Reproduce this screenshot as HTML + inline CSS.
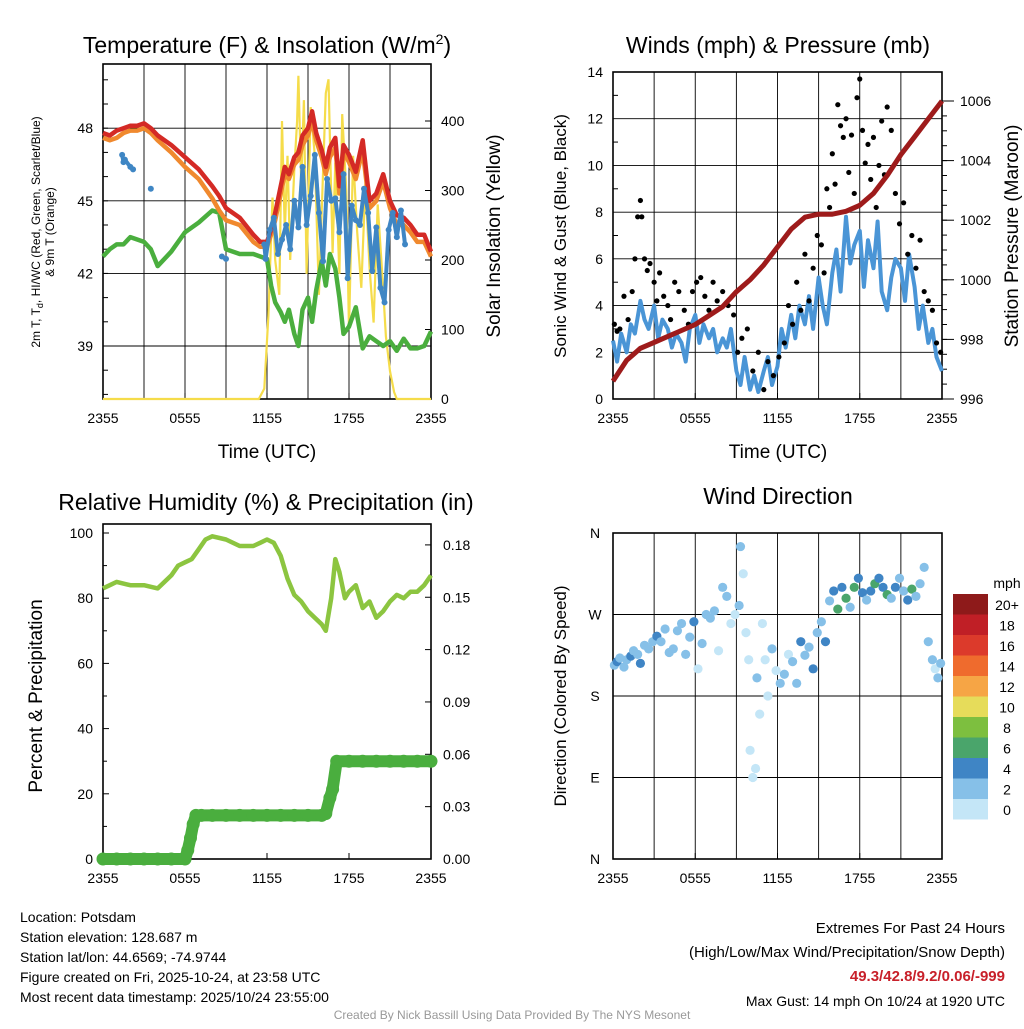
<!DOCTYPE html>
<html><head><meta charset="utf-8"><style>
body{margin:0;background:#fff}
svg text{font-family:"Liberation Sans",sans-serif;fill:#000}
</style></head><body>
<svg id="c" width="1024" height="1024" viewBox="0 0 1024 1024" xmlns="http://www.w3.org/2000/svg"></svg>
<script>
// ---------- DATA ----------
const xTickLabels=["2355","0555","1155","1755","2355"];
// Temperature panel (hours since 2355)
const tempHours=[0,0.5,1,1.5,2,2.5,3,3.5,4,5,6,7,8,8.5,9,10,11,11.5,12,12.3,12.6,13,13.3,13.6,14,14.3,14.6,15,15.3,15.6,16,16.3,16.6,17,17.3,17.6,18,18.5,19,19.5,20,20.5,21,21.5,22,22.5,23,23.5,24];
const redT=[47.8,47.7,47.9,48.0,48.1,48.1,48.2,48.0,47.7,47.3,46.8,46.3,45.6,45.2,44.7,44.3,43.6,43.3,43.3,43.8,44.5,45.6,46.4,46.1,46.8,47.0,47.7,48.0,48.7,47.8,47.1,46.4,47.2,47.6,45.6,47.3,46.9,46.2,47.5,45.0,45.3,46.1,45.0,44.4,44.3,44.0,43.6,43.6,42.9];
const orangeT=[47.6,47.5,47.6,47.8,47.9,47.9,48.0,47.8,47.5,47.0,46.4,45.9,45.1,44.6,44.2,44.0,43.3,43.1,43.1,43.6,44.2,45.3,46.1,45.9,46.5,46.7,47.3,47.7,48.3,47.5,46.8,46.1,46.8,47.2,45.3,47.0,46.6,45.9,47.1,44.7,45.0,45.8,44.7,44.0,44.0,43.7,43.3,43.3,42.7];
const greenT=[42.7,43.0,43.2,43.2,43.5,43.4,43.3,43.0,42.3,42.9,43.7,44.1,44.6,44.5,43.0,42.8,42.8,42.7,42.6,41.5,40.8,40.4,40.0,40.5,39.5,39.0,40.5,41.0,40.0,41.3,42.5,41.5,42.8,42.2,41.0,39.5,39.8,40.6,38.9,39.4,39.2,39.0,39.2,38.8,39.3,38.9,38.9,39.0,39.6];
const blueHours=[1.4,1.5,1.6,2.0,2.2,3.5,8.7,9.0,11.8,11.9,12.2,12.5,12.8,13.1,13.4,13.7,14.0,14.3,14.6,14.9,15.2,15.5,15.8,16.1,16.4,16.7,17.0,17.3,17.6,17.9,18.2,18.5,18.8,19.1,19.4,19.7,20.0,20.3,20.6,20.9,21.2,21.5,21.8,22.1];
const blueT=[46.9,46.6,46.7,46.4,46.3,45.5,42.7,42.6,43.2,42.6,43.8,44.3,42.8,43.4,44.0,43.0,45.0,43.9,46.4,44.0,45.2,46.9,44.5,42.5,45.9,45.0,45.1,43.7,46.1,41.8,44.8,44.2,44.0,45.5,44.5,42.1,43.9,41.4,40.8,43.8,44.5,43.5,44.6,43.2];
const solarHours=[0,11.4,11.8,12.1,12.4,12.6,12.9,13.1,13.3,13.5,13.7,14.0,14.2,14.3,14.5,14.7,14.9,15.2,15.5,15.8,16.0,16.3,16.5,16.8,17.0,17.3,17.5,17.8,18.0,18.3,18.6,18.9,19.2,19.5,19.8,20.1,20.4,20.7,21.0,21.3,21.5,22,24];
const solarW=[0,0,15,120,290,200,150,400,240,350,200,330,400,465,310,430,180,420,350,150,270,440,460,210,340,180,410,300,100,350,240,160,310,190,110,280,190,90,40,10,0,0,0];
// Winds panel
const windHours=[0,0.3,0.6,1,1.3,1.6,2,2.3,2.6,3,3.3,3.6,4,4.3,4.6,5,5.3,5.6,6,6.3,6.6,7,7.3,7.6,8,8.3,8.6,9,9.3,9.6,10,10.3,10.6,11,11.3,11.6,12,12.3,12.6,13,13.3,13.6,14,14.3,14.6,15,15.3,15.6,16,16.3,16.6,17,17.3,17.6,18,18.3,18.6,19,19.3,19.6,20,20.3,20.6,21,21.3,21.6,22,22.3,22.6,23,23.3,23.6,24];
const windMph=[2.5,1.6,2.8,2.0,3.2,2.8,4.2,3.4,3.0,4.0,2.6,3.4,3.0,2.2,2.8,2.4,1.6,3.0,3.6,2.4,3.2,2.6,3.0,2.0,2.6,2.2,3.0,1.2,0.6,1.8,0.4,1.0,0.3,1.2,1.8,0.6,1.4,3.0,2.2,3.6,2.6,4.0,3.2,4.4,3.0,5.2,4.0,3.2,5.4,6.4,4.6,7.8,5.8,6.6,7.2,4.8,6.8,5.6,7.6,4.6,3.8,5.2,6.0,5.6,4.2,6.2,4.8,3.0,4.0,2.4,3.0,1.8,1.2];
const gustHours=[0.1,0.3,0.5,0.8,1.1,1.4,1.6,1.8,2.0,2.1,2.3,2.5,2.7,3.0,3.2,3.4,3.7,4.0,4.2,4.5,4.8,5.2,5.5,5.8,6.1,6.4,6.7,7.0,7.3,7.6,8.0,8.4,8.8,9.1,9.4,9.8,10.2,10.6,11.0,11.3,11.7,12.1,12.5,12.8,13.1,13.4,13.7,14.0,14.3,14.6,14.9,15.2,15.4,15.6,15.8,16.0,16.2,16.4,16.6,16.8,17.0,17.2,17.4,17.6,17.8,18.0,18.2,18.4,18.6,18.8,19.0,19.2,19.4,19.6,19.8,20.0,20.3,20.6,20.9,21.2,21.5,21.8,22.1,22.4,22.7,23.0,23.3,23.6,23.9];
const gustMph=[3.2,2.9,3.0,4.4,3.4,4.6,6.0,7.8,8.5,7.8,6.0,5.5,5.8,5.0,4.2,5.4,4.4,4.0,3.4,5.0,4.6,3.8,3.2,4.6,5.0,5.2,4.4,3.8,5.0,4.2,4.6,4.0,3.6,2.0,2.6,3.0,1.2,2.0,0.4,1.6,1.0,1.8,2.4,4.0,3.2,5.0,3.8,6.2,4.2,5.6,7.0,6.6,5.4,9.0,8.2,10.5,9.2,12.6,11.7,11.2,12.0,9.7,11.3,8.8,12.9,13.7,11.5,10.1,10.9,9.4,11.2,8.2,10.0,11.9,9.6,12.5,11.5,8.8,7.5,8.4,6.2,7.0,5.6,6.8,4.6,4.2,3.8,2.4,2.0];
const pressHours=[0,1,2,3,4,5,6,7,8,9,10,11,12,13,14,15,16,17,18,19,20,21,22,23,24];
const pressMb=[996.6,997.3,997.7,997.9,998.1,998.3,998.5,998.8,999.1,999.6,1000.0,1000.5,1001.1,1001.7,1002.1,1002.2,1002.2,1002.3,1002.5,1002.9,1003.5,1004.2,1004.8,1005.4,1006.0];
// RH panel
const rhHours=[0,0.5,1,2,3,4,4.5,5,5.5,6,6.5,7,7.5,8,9,10,11,11.5,12,12.5,13,13.5,14,14.5,15,15.5,16,16.3,16.7,17,17.3,17.7,18,18.5,19,19.5,20,20.5,21,21.5,22,22.5,23,23.5,24];
const rhPct=[83,84,85,84,84,83,85,87,90,91,92,95,98,99,98,96,96,97,98,97,93,86,81,79,76,74,72,70,80,92,88,80,82,84,77,79,74,76,79,81,80,82,82,84,87];
const precipHours=[0,1,2,3,4,5,6,6.2,6.4,6.6,6.8,7.2,8,9,10,11,12,13,14,15,16,16.3,16.6,16.8,17.1,18,19,20,21,22,23,24];
const precipIn=[0,0,0,0,0,0,0,0.005,0.012,0.02,0.025,0.025,0.025,0.025,0.025,0.025,0.025,0.025,0.025,0.025,0.025,0.026,0.035,0.04,0.056,0.056,0.056,0.056,0.056,0.056,0.056,0.056];
// Wind direction panel
const dirHours=[0.1,0.3,0.5,0.8,1.0,1.3,1.5,1.8,2.0,2.3,2.6,2.9,3.2,3.5,3.8,4.1,4.4,4.7,5.0,5.3,5.6,5.9,6.2,6.5,6.8,7.1,7.4,7.7,8.0,8.3,8.6,8.9,9.2,9.3,9.5,9.7,9.9,10.0,10.2,10.4,10.5,10.7,10.9,11.1,11.3,11.6,11.9,12.2,12.5,12.8,13.1,13.4,13.7,14.0,14.3,14.6,14.9,15.2,15.5,15.8,16.1,16.4,16.7,17.0,17.3,17.6,17.9,18.2,18.5,18.8,19.1,19.4,19.7,20.0,20.3,20.6,20.9,21.2,21.5,21.8,22.1,22.4,22.7,23.0,23.3,23.5,23.7,23.9];
const dirDeg=[214,218,222,212,220,224,230,226,216,236,232,240,246,240,254,228,232,252,260,226,245,262,210,238,270,266,274,230,300,290,260,270,280,345,315,250,220,120,90,100,200,160,260,220,180,232,208,194,204,226,218,194,240,225,234,210,250,262,240,285,296,276,300,288,278,300,310,294,286,296,304,310,300,292,288,300,310,296,286,298,290,304,322,240,220,210,200,216];
const dirSpd=[3,4,3,2,3,4,3,2,4,3,3,2,4,3,2,3,2,2,3,2,2,4,1,2,2,3,2,1,3,2,1,0,2,2,1,0,1,0,1,0,2,1,1,0,1,2,1,2,2,1,2,3,4,3,2,4,3,2,4,3,5,6,4,7,3,6,4,5,3,4,6,4,5,7,3,4,2,3,5,6,2,3,2,2,3,1,2,2];

// ---------- DRAW ----------
const svg=document.getElementById('c');
const NS='http://www.w3.org/2000/svg';
function el(tag,attrs,parent){const e=document.createElementNS(NS,tag);for(const k in attrs)e.setAttribute(k,attrs[k]);(parent||svg).appendChild(e);return e;}
function txt(s,x,y,size,anchor,parent,extra){const t=el('text',Object.assign({x:x,y:y,'font-size':size,'text-anchor':anchor||'middle'},extra||{}),parent);t.textContent=s;return t;}
function ptsStr(xs,ys,fx,fy){return xs.map((h,i)=>fx(h).toFixed(1)+','+fy(ys[i]).toFixed(1)).join(' ');}

function frame(g,x0,x1,y0,y1,name){
  for(let h=3;h<24;h+=3){const x=x0+(x1-x0)*h/24;el('line',{x1:x,x2:x,y1:y0,y2:y1,stroke:'#000','stroke-width':0.9},g);}
  xTickLabels.forEach((s,i)=>{const x=x0+(x1-x0)*i/4;const t=txt(s,x,y1+24,14,'middle',g);
    el('line',{x1:x,x2:x,y1:y1,y2:y1-6,stroke:'#000','stroke-width':1},g);});
  const r=el('rect',{x:x0,y:y0,width:x1-x0,height:y1-y0,fill:'none',stroke:'#000','stroke-width':1.6},g);
  
}

// Panel 1: Temperature
(function(){
const g=el('g',{});
const x0=103,x1=431,y0=64,y1=399;
const fx=h=>x0+(x1-x0)*h/24, fy=v=>346-(v-39)*24.2, fr=v=>399-v*0.695;
[39,42,45,48].forEach(v=>{el('line',{x1:x0,x2:x1,y1:fy(v),y2:fy(v),stroke:'#000','stroke-width':0.9},g);const t=txt(String(v),x0-10,fy(v)+5,14,'end',g);});
for(let v=37;v<=50;v++){el('line',{x1:x0,x2:x0+5,y1:fy(v),y2:fy(v),stroke:'#000'},g);}
[0,100,200,300,400].forEach(v=>{const t=txt(String(v),x1+10,fr(v)+5,14,'start',g);el('line',{x1:x1,x2:x1-6,y1:fr(v),y2:fr(v),stroke:'#000'},g);});
frame(g,x0,x1,y0,y1,'temperature');
const sol=el('polyline',{points:ptsStr(solarHours,solarW,fx,fr),fill:'none',stroke:'#f5dc4a','stroke-width':2.2},g);
const gr=el('polyline',{points:ptsStr(tempHours,greenT,fx,fy),fill:'none',stroke:'#4aae3e','stroke-width':4.5,'stroke-linejoin':'round'},g);
const orr=el('polyline',{points:ptsStr(tempHours,orangeT,fx,fy),fill:'none',stroke:'#f0892e','stroke-width':4.5,'stroke-linejoin':'round'},g);
const rd=el('polyline',{points:ptsStr(tempHours,redT,fx,fy),fill:'none',stroke:'#d42a25','stroke-width':4.5,'stroke-linejoin':'round'},g);
blueHours.forEach((h,i)=>{const c=el('circle',{cx:fx(h),cy:fy(blueT[i]),r:3,fill:'#3f86c4'},g);
 if(i>0&&h-blueHours[i-1]<0.4){const l=el('line',{x1:fx(blueHours[i-1]),y1:fy(blueT[i-1]),x2:fx(h),y2:fy(blueT[i]),stroke:'#3f86c4','stroke-width':4},g);}});
let t=txt('',267,53,23,'middle',g);t.innerHTML='Temperature (F) &amp; Insolation (W/m<tspan font-size="14" dy="-9">2</tspan><tspan dy="9">)</tspan>';
t=txt('Time (UTC)',267,458,19,'middle',g);
t=txt('',0,0,12,'middle',g,{transform:'translate(40,232) rotate(-90)'});t.innerHTML='2m T, T<tspan font-size="9" dy="3">d</tspan><tspan dy="-3">, HI/WC (Red, Green, Scarlet/Blue)</tspan>';
t=txt('& 9m T (Orange)',0,0,12,'middle',g,{transform:'translate(54,232) rotate(-90)'});
t=txt('Solar Insolation (Yellow)',0,0,19,'middle',g,{transform:'translate(500,236) rotate(-90)'});
})();

// Panel 2: Winds
(function(){
const g=el('g',{});
const x0=613,x1=942,y0=72,y1=399;
const fx=h=>x0+(x1-x0)*h/24, fy=v=>399-v*(327/14), fr=v=>399-(v-996)*29.8;
for(let v=0;v<=14;v+=2){el('line',{x1:x0,x2:x1,y1:fy(v),y2:fy(v),stroke:'#000','stroke-width':0.9},g);const t=txt(String(v),x0-10,fy(v)+5,14,'end',g);if(v<14)el('line',{x1:x0,x2:x0+5,y1:fy(v+1),y2:fy(v+1),stroke:'#000'},g);}
for(let v=996;v<=1006;v+=2){const t=txt(String(v),x1+18,fr(v)+5,14,'start',g);el('line',{x1:x1,x2:x1+12,y1:fr(v),y2:fr(v),stroke:'#000'},g);}
for(let v=996.5;v<1006;v+=0.5){el('line',{x1:x1,x2:x1+5,y1:fr(v),y2:fr(v),stroke:'#000'},g);}
frame(g,x0,x1,y0,y1,'winds');
const w=el('polyline',{points:ptsStr(windHours,windMph,fx,fy),fill:'none',stroke:'#4a95d6','stroke-width':4,'stroke-linejoin':'round'},g);
gustHours.forEach((h,i)=>{const c=el('circle',{cx:fx(h),cy:fy(gustMph[i]),r:2.6,fill:'#000'},g);});
const p=el('polyline',{points:ptsStr(pressHours,pressMb,fx,fr),fill:'none',stroke:'#9e1b1b','stroke-width':5,'stroke-linejoin':'round'},g);
let t=txt('Winds (mph) & Pressure (mb)',778,53,23,'middle',g);
t=txt('Time (UTC)',778,458,19,'middle',g);
t=txt('Sonic Wind & Gust (Blue, Black)',0,0,17,'middle',g,{transform:'translate(566,236) rotate(-90)'});
t=txt('Station Pressure (Maroon)',0,0,19,'middle',g,{transform:'translate(1018,236) rotate(-90)'});
})();

// Panel 3: RH
(function(){
const g=el('g',{});
const x0=103,x1=431,y0=524,y1=859;
const fx=h=>x0+(x1-x0)*h/24, fy=v=>859-v*3.26, fr=v=>859-v*1745;
for(let v=0;v<=100;v+=20){const t=txt(String(v),x0-10,fy(v)+5,14,'end',g);el('line',{x1:x0,x2:x0+6,y1:fy(v),y2:fy(v),stroke:'#000'},g);if(v<100)el('line',{x1:x0,x2:x0+4,y1:fy(v+10),y2:fy(v+10),stroke:'#000'},g);}
['0.00','0.03','0.06','0.09','0.12','0.15','0.18'].forEach((s,i)=>{const v=i*0.03;const t=txt(s,x1+12,fr(v)+5,14,'start',g);el('line',{x1:x1,x2:x1-6,y1:fr(v),y2:fr(v),stroke:'#000'},g);});
const r=el('rect',{x:x0,y:y0,width:x1-x0,height:y1-y0,fill:'none',stroke:'#000','stroke-width':1.6},g);
xTickLabels.forEach((s,i)=>{const x=x0+(x1-x0)*i/4;const t=txt(s,x,y1+24,14,'middle',g);el('line',{x1:x,x2:x,y1:y1,y2:y1-6,stroke:'#000'},g);});
const rh=el('polyline',{points:ptsStr(rhHours,rhPct,fx,fy),fill:'none',stroke:'#8cc540','stroke-width':4.5,'stroke-linejoin':'round'},g);
const pl=el('polyline',{points:ptsStr(precipHours,precipIn,fx,fr),fill:'none',stroke:'#4aae3e','stroke-width':12,'stroke-linejoin':'round','stroke-linecap':'round'},g);
precipHours.forEach((h,i)=>{const c=el('circle',{cx:fx(h),cy:fr(precipIn[i]),r:6.5,fill:'#4aae3e'},g);});
let t=txt('Relative Humidity (%) & Precipitation (in)',266,510,23,'middle',g);
t=txt('Percent & Precipitation',0,0,19,'middle',g,{transform:'translate(42,696) rotate(-90)'});
})();

// Panel 4: Wind direction
const speedColors=['#c4e6f7','#86c0e8','#3f85c5','#4aa56b','#7dbf3f','#e6dc5a','#f6a545','#ef6b2d','#dc3a2b','#c01f26','#8e1a1a'];
const speedLabels=['0','2','4','6','8','10','12','14','16','18','20+'];
(function(){
const g=el('g',{});
const x0=613,x1=942,y0=533,y1=859;
const fx=h=>x0+(x1-x0)*h/24, fy=v=>859-v*(326/360);
['N','E','S','W','N'].forEach((s,i)=>{const y=fy(i*90);if(i>0&&i<4)el('line',{x1:x0,x2:x1,y1:y,y2:y,stroke:'#000','stroke-width':0.9},g);const t=txt(s,x0-18,y+5,14,'middle',g);});
frame(g,x0,x1,y0,y1,'wind-direction');
dirHours.forEach((h,i)=>{const ci=Math.min(10,Math.floor(dirSpd[i]/2));const c=el('circle',{cx:fx(h),cy:fy(dirDeg[i]),r:4.6,fill:speedColors[ci]},g);});
let t=txt('Wind Direction',778,504,23,'middle',g);
t=txt('Direction (Colored By Speed)',0,0,17,'middle',g,{transform:'translate(566,696) rotate(-90)'});
const lg=el('g',{},g);
t=txt('mph',1007,588,14,'middle',lg);
for(let i=0;i<11;i++){const y=594+(10-i)*20.5;const r=el('rect',{x:953,y:y,width:35,height:20.5,fill:speedColors[i]},lg);
 const tl=txt(speedLabels[i],1007,y+16,14,'middle',lg);}
})();
</script>
<div style="position:absolute;left:0;top:0;width:1024px;height:1024px;pointer-events:none;font-family:'Liberation Sans',sans-serif;font-size:14px;color:#000">
<div style="position:absolute;left:20px;top:907px;line-height:20px">Location: Potsdam<br>Station elevation: 128.687 m<br>Station lat/lon: 44.6569; -74.9744<br>Figure created on Fri, 2025-10-24, at 23:58 UTC<br>Most recent data timestamp: 2025/10/24 23:55:00</div>
<div style="position:absolute;right:19px;top:917px;text-align:right;line-height:24px;font-size:15px">Extremes For Past 24 Hours<br>(High/Low/Max Wind/Precipitation/Snow Depth)<br><b style="color:#c8202a">49.3/42.8/9.2/0.06/-999</b><br><span style="font-size:14px">Max Gust: 14 mph On 10/24 at 1920 UTC</span></div>
<div style="position:absolute;left:0;width:1024px;top:1008px;text-align:center;font-size:12px;color:#999">Created By Nick Bassill Using Data Provided By The NYS Mesonet</div>
</div>
</body></html>
